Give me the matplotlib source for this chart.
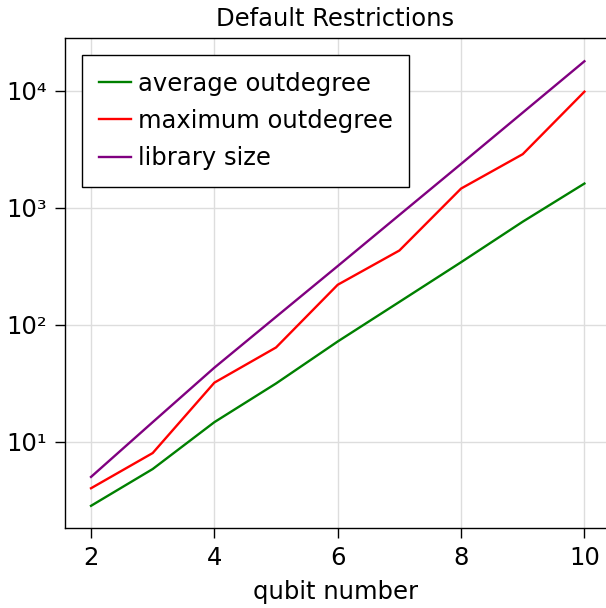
import matplotlib
matplotlib.use("Agg")
import matplotlib.pyplot as plt
from matplotlib.ticker import FixedLocator, FixedFormatter, NullLocator

qubits = [2, 3, 4, 5, 6, 7, 8, 9, 10]
avg_outdegree = [2.83, 5.84, 14.7, 31.5, 72, 157, 343, 762, 1615]
max_outdegree = [4, 8, 32, 64, 220, 432, 1463, 2880, 9860]
library_size = [5, 14.7, 43, 117, 318, 870, 2377, 6530, 17950]

y_ticks = [10, 100, 1000, 10000]
y_tick_labels = ["10¹", "10²", "10³", "10⁴"]
x_ticks = [2, 4, 6, 8, 10]

plt.rcParams['font.family'] = ['DejaVu Sans']
FS = 17.5
W, H = 606, 608
fig = plt.figure(figsize=(W / 100, H / 100), dpi=100)
left, right, top, bottom = 65, 606, 38, 528
ax = fig.add_axes([left / W, 1 - bottom / H, (right - left) / W, (bottom - top) / H])

ax.plot(qubits, avg_outdegree, color="green", lw=1.7, label="average outdegree")
ax.plot(qubits, max_outdegree, color="red", lw=1.7, label="maximum outdegree")
ax.plot(qubits, library_size, color="purple", lw=1.7, label="library size")

ax.set_yscale("log")
ax.set_xlim(1.578, 10.35)
ax.set_ylim(10 ** 0.262, 10 ** 4.453)
ax.yaxis.set_major_locator(FixedLocator(y_ticks))
ax.yaxis.set_major_formatter(FixedFormatter(y_tick_labels))
ax.yaxis.set_minor_locator(NullLocator())
ax.set_xticks(x_ticks)
ax.set_xticklabels([str(v) for v in x_ticks])

ax.grid(True, color="#dddddd", lw=1.0)
ax.set_axisbelow(True)
ax.spines['right'].set_visible(False)
for s in ['left', 'top', 'bottom']:
    ax.spines[s].set_linewidth(1.0)
ax.tick_params(axis='both', direction='out', length=7, width=1.0, labelsize=FS, pad=6)

ax.set_xlabel("qubit number", fontsize=FS, labelpad=7)
ax.set_title("Default Restrictions", fontsize=FS, pad=9)

leg = ax.legend(loc="upper left", fontsize=FS, frameon=True, fancybox=False,
                edgecolor="black", framealpha=1.0, borderaxespad=0.7,
                borderpad=0.68, labelspacing=0.55, handlelength=1.32, handletextpad=0.3)
leg.get_frame().set_linewidth(1.0)

fig.savefig("out.png", dpi=100)
